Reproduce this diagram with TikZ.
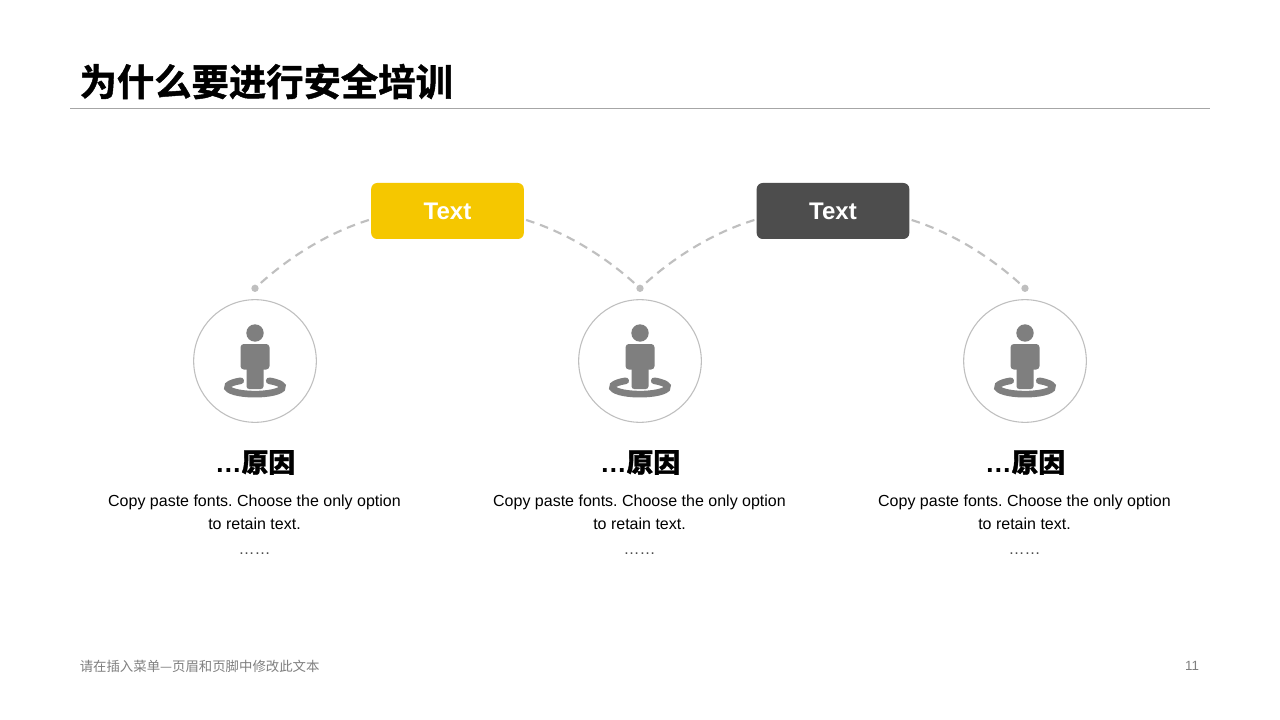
\documentclass[tikz,border=0pt]{standalone}
\usepackage{fontspec}
\setmainfont{Liberation Sans}
\newfontfamily\cjkb[FakeBold=1.2]{Noto Sans CJK SC Bold}
\newfontfamily\cjkr{Noto Sans CJK SC}
\definecolor{ybox}{HTML}{F5C700}
\definecolor{dbox}{HTML}{4D4D4D}
\definecolor{lgrey}{HTML}{BFBFBF}
\definecolor{icon}{HTML}{7F7F7F}
\tikzset{
  tagbox/.style={rounded corners=4.5pt,minimum width=114.5pt,minimum height=42pt,inner sep=0pt,text=white,font=\fontsize{18}{20}\selectfont\bfseries},
  enddot/.style={circle,fill=lgrey,inner sep=0pt,minimum size=5.5pt},
  ringc/.style={circle,draw=lgrey,line width=0.8pt,fill=white,inner sep=0pt,minimum size=92pt},
  link/.style={draw=lgrey,line width=1.6pt,dash pattern=on 6.5pt off 4.5pt},
  head/.style={font=\fontsize{20}{24}\selectfont\bfseries,inner sep=0pt},
  body/.style={font=\fontsize{12}{17.5}\selectfont\frenchspacing,align=center,inner sep=0pt},
  person/.pic={
    \fill[icon] (0,-28) circle[radius=8.7];
    \fill[icon,rounded corners=2.5pt] (-14.5,-17) rectangle (14.5,8.5);
    \fill[icon,rounded corners=2pt] (-8.5,0) rectangle (8.5,28);
    \draw[icon,line width=5pt,line cap=round] (-14.3,19.8) arc[start angle=239,end angle=-59,x radius=27.7,y radius=7.2];
  }
}
\begin{document}
\begin{tikzpicture}[x=0.75pt,y=-0.75pt]
\useasboundingbox (0,0) rectangle (1280,720);
\fill[white] (0,0) rectangle (1280,720);
\node[anchor=west,inner sep=0pt,font=\cjkb\fontsize{28}{34}\selectfont] (title) at (79.3,81.5) {为什么要进行安全培训};
\coordinate (ruleL) at (70,108.4);
\coordinate (ruleR) at (1210,108.4);
\draw[color=black!35,line width=0.75pt] (ruleL) -- (ruleR);

\node[tagbox,fill=ybox] (box1) at (447.5,211) {Text};
\node[tagbox,fill=dbox] (box2) at (833,211) {Text};

\foreach \n/\x in {1/255,2/640,3/1025}{
  \node[enddot] (dot\n) at (\x,288.3) {};
  \node[ringc] (circ\n) at (\x,361) {};
  \pic at (\x,361) {person};
  \node[head] (head\n) at (\x,462.5) {\fontspec{Liberation Sans Bold}…\cjkb 原因};
  \node[body] (text\n) at (\x-0.5,524.5) {Copy paste fonts. Choose the only option\\to retain text.\\[1pt]{\color{black!70}……}};
}

\path[link] ([xshift=-1.5pt,yshift=-6.75pt]box1.west) .. controls (330,232) and (290,256) .. (dot1);
\path[link] ([xshift=1.5pt,yshift=-6.75pt]box1.east) .. controls (565,232) and (605,256) .. (dot2);
\path[link] ([xshift=-1.5pt,yshift=-6.75pt]box2.west) .. controls (715,232) and (675,256) .. (dot2);
\path[link] ([xshift=1.5pt,yshift=-6.75pt]box2.east) .. controls (950,232) and (990,256) .. (dot3);

\node[anchor=west,inner sep=0pt,text=icon,font=\cjkr\fontsize{10.05}{12}\selectfont] (foot) at (79.5,666) {请在插入菜单—页眉和页脚中修改此文本};
\node[anchor=center,inner sep=0pt,text=icon,font=\fontsize{10}{12}\selectfont] (page) at (1192,666) {11};
\end{tikzpicture}
\end{document}
